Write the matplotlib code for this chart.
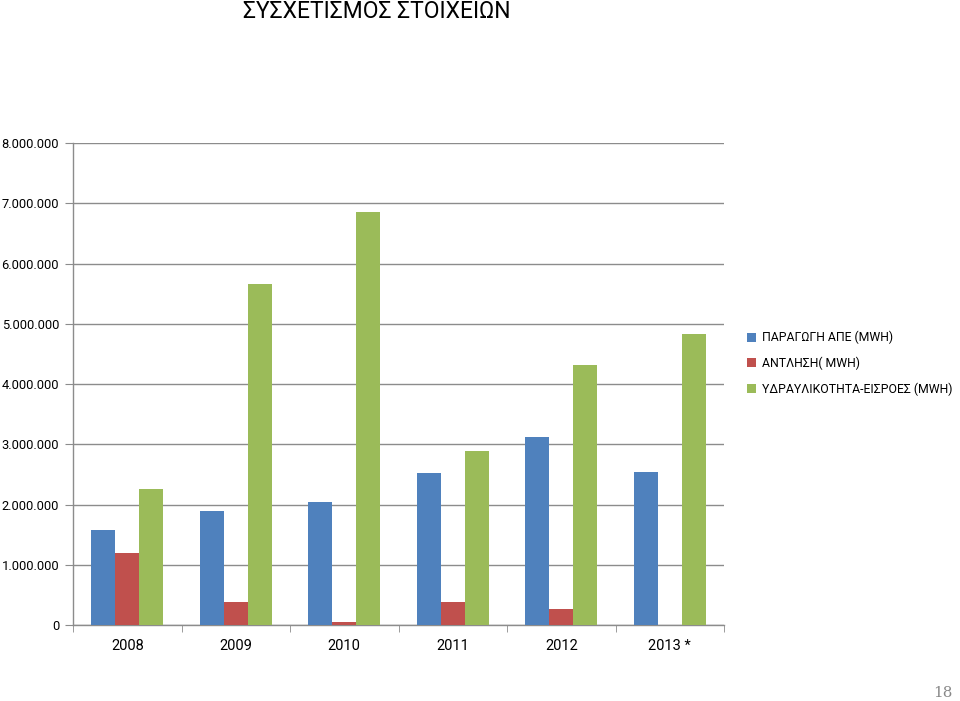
import matplotlib
matplotlib.use("Agg")
import matplotlib.pyplot as plt
import numpy as np
from matplotlib.ticker import FuncFormatter, MultipleLocator
from matplotlib.patches import Patch

years = ["2008", "2009", "2010", "2011", "2012", "2013 *"]
series_names = ["ΠΑΡΑΓΩΓΗ ΑΠΕ (MWH)", "ΑΝΤΛΗΣΗ( MWH)", "ΥΔΡΑΥΛΙΚΟΤΗΤΑ-ΕΙΣΡΟΕΣ (MWH)"]
production = [1570000, 1890000, 2040000, 2530000, 3115000, 2540000]
pumping = [1200000, 390000, 50000, 380000, 270000, 0]
hydro = [2260000, 5660000, 6855000, 2880000, 4310000, 4835000]
colors = ["#4F81BD", "#C0504D", "#9BBB59"]

plt.rcParams['font.family'] = ['Roboto', 'DejaVu Sans']

fig = plt.figure(figsize=(9.6, 7.01), dpi=100)
ax = fig.add_axes([73/960, 76/701, (724-73)/960, (625-143)/701])

x = np.arange(len(years))
w = 0.222
for i, (vals, c) in enumerate(zip([production, pumping, hydro], colors)):
    ax.bar(x + (i - 1) * w, vals, width=w, color=c, zorder=3)

ax.set_xlim(-0.5, len(years) - 0.5)
ax.set_ylim(0, 8000000)
ax.yaxis.set_major_locator(MultipleLocator(1000000))
def fmt(v, pos):
    if v == 0:
        return "0"
    return f"{int(v):,}".replace(",", ".")
ax.yaxis.set_major_formatter(FuncFormatter(fmt))
ax.grid(axis='y', color='#8c8c8c', linewidth=1, zorder=0)
ax.set_axisbelow(True)

for s in ['top', 'right']:
    ax.spines[s].set_visible(False)
for s in ['left', 'bottom']:
    ax.spines[s].set_color('#8c8c8c')
    ax.spines[s].set_linewidth(1)

ax.set_xticks(x)
ax.set_xticklabels(years)
ax.set_xticks(np.arange(-0.5, len(years) + 0.5, 1), minor=True)
ax.tick_params(axis='x', which='major', length=0, pad=10, labelsize=10.5, colors='black')
ax.tick_params(axis='x', which='minor', length=5, direction='out', color='#8c8c8c')
ax.tick_params(axis='y', length=6, direction='out', color='#8c8c8c', labelsize=9.3, pad=4)

fig.text(377/960, 1 - 12/701, "ΣΥΣΧΕΤΙΣΜΟΣ ΣΤΟΙΧΕΙΩΝ", ha='center', va='center', fontsize=16.5)

handles = [Patch(facecolor=c, edgecolor='none') for c in colors]
leg = fig.legend(handles, series_names, loc='upper left', bbox_to_anchor=(747/960, 1 - 331/701),
                 frameon=False, fontsize=8.8, handlelength=0.75, handleheight=0.75,
                 handletextpad=0.45, labelspacing=1.0, borderaxespad=0, borderpad=0)

fig.text(943/960, 1 - 693/701, "18", ha='center', va='center', fontsize=11, color='#888888',
         family=['DejaVu Serif'])

fig.savefig("out.png", dpi=100)
